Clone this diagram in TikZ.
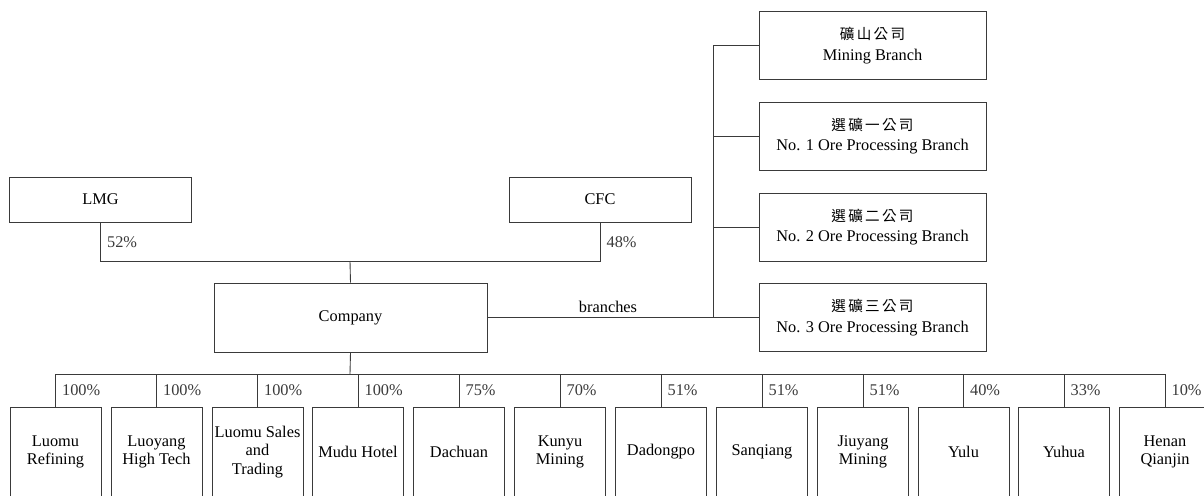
\documentclass[tikz,border=0pt]{standalone}
\usepackage{fontspec}
\setmainfont{Liberation Serif}
\newfontfamily\cjk{Noto Sans CJK TC}
\usetikzlibrary{positioning,calc}
\definecolor{ink}{HTML}{3A3A3A}
\newcommand{\cjkgap}{\hspace{1.3pt}}
\newcommand{\zh}[1]{{\cjk\fontsize{8.3}{9}\selectfont #1}}

\begin{document}
\begin{tikzpicture}[x=0.02cm,y=-0.02cm,
  line width=0.5pt,
  box/.style={draw=ink,inner sep=1pt,align=center,font=\fontsize{9.3}{10.5}\selectfont},
  holder/.style={box,minimum width=3.64cm,minimum height=0.9cm},
  branchbox/.style={box,minimum width=4.54cm,minimum height=1.36cm,font=\fontsize{9.3}{11.5}\selectfont},
  subbox/.style={box,minimum width=1.82cm,minimum height=1.8cm},
  pct/.style={font=\fontsize{9.3}{10.5}\selectfont,inner sep=3.5pt}]
  \useasboundingbox (0,0) rectangle (1204,495);
  \clip (0,0) rectangle (1204,495);

  % Shareholders
  \node[holder] (lmg) at (100.5,199.5) {LMG};
  \node[holder] (cfc) at (600,199.5) {CFC};
  \node[box,minimum width=5.46cm,minimum height=1.38cm] (company) at (350.5,317.5) {Company};
  \coordinate (jtop) at (350,261);
  \draw[ink] (lmg.south) -- (lmg.south |- jtop) node[pct,midway,right] {52\%} -- (jtop);
  \draw[ink] (cfc.south) -- (cfc.south |- jtop) node[pct,midway,right] {48\%} -- (jtop);
  \draw[ink] (jtop) -- (company.north);

  % Branches
  \node[branchbox] (mine) at (872.5,45.5) {\zh{礦\cjkgap 山\cjkgap 公\cjkgap 司}\\Mining Branch};
  \node[branchbox] (ore1) at (872.5,136) {\zh{選\cjkgap 礦\cjkgap 一\cjkgap 公\cjkgap 司}\\No. 1 Ore Processing Branch};
  \node[branchbox] (ore2) at (872.5,227) {\zh{選\cjkgap 礦\cjkgap 二\cjkgap 公\cjkgap 司}\\No. 2 Ore Processing Branch};
  \node[branchbox] (ore3) at (872.5,317.5) {\zh{選\cjkgap 礦\cjkgap 三\cjkgap 公\cjkgap 司}\\No. 3 Ore Processing Branch};
  \coordinate (bus) at (713,317.5);
  \draw[ink] (company.east) -- (ore3.west);
  \draw[ink] (mine.west) -| (bus);
  \draw[ink] (ore1.west) -- (ore1.west -| bus);
  \draw[ink] (ore2.west) -- (ore2.west -| bus);
  \node[pct] (brlabel) at (608,307) {branches};

  % Subsidiaries
  \node[subbox] (refining) at (55.5,452) {Luomu\\Refining};
  \node[subbox] (hightech) at (156.5,452) {Luoyang\\High Tech};
  \node[subbox] (sales) at (257.5,452) {Luomu Sales\\and\\Trading};
  \node[subbox] (hotel) at (358,452) {Mudu Hotel};
  \node[subbox] (dachuan) at (459,452) {Dachuan};
  \node[subbox] (kunyu) at (560,452) {Kunyu\\Mining};
  \node[subbox] (dadongpo) at (661,452) {Dadongpo};
  \node[subbox] (sanqiang) at (762,452) {Sanqiang};
  \node[subbox] (jiuyang) at (863,452) {Jiuyang\\Mining};
  \node[subbox] (yulu) at (963.5,452) {Yulu};
  \node[subbox] (yuhua) at (1064,452) {Yuhua};
  \node[subbox] (qianjin) at (1165,452) {Henan\\Qianjin};

  \coordinate (jbot) at (350,374);
  \draw[ink] (company.south) -- (jbot);
  \draw[ink] (refining.north |- jbot) -- (qianjin.north |- jbot);
  \draw[ink] (refining.north) -- (refining.north |- jbot) node[pct,midway,right] {100\%};
  \draw[ink] (hightech.north) -- (hightech.north |- jbot) node[pct,midway,right] {100\%};
  \draw[ink] (sales.north) -- (sales.north |- jbot) node[pct,midway,right] {100\%};
  \draw[ink] (hotel.north) -- (hotel.north |- jbot) node[pct,midway,right] {100\%};
  \draw[ink] (dachuan.north) -- (dachuan.north |- jbot) node[pct,midway,right] {75\%};
  \draw[ink] (kunyu.north) -- (kunyu.north |- jbot) node[pct,midway,right] {70\%};
  \draw[ink] (dadongpo.north) -- (dadongpo.north |- jbot) node[pct,midway,right] {51\%};
  \draw[ink] (sanqiang.north) -- (sanqiang.north |- jbot) node[pct,midway,right] {51\%};
  \draw[ink] (jiuyang.north) -- (jiuyang.north |- jbot) node[pct,midway,right] {51\%};
  \draw[ink] (yulu.north) -- (yulu.north |- jbot) node[pct,midway,right] {40\%};
  \draw[ink] (yuhua.north) -- (yuhua.north |- jbot) node[pct,midway,right] {33\%};
  \draw[ink] (qianjin.north) -- (qianjin.north |- jbot) node[pct,midway,right] {10\%};
\end{tikzpicture}
\end{document}
